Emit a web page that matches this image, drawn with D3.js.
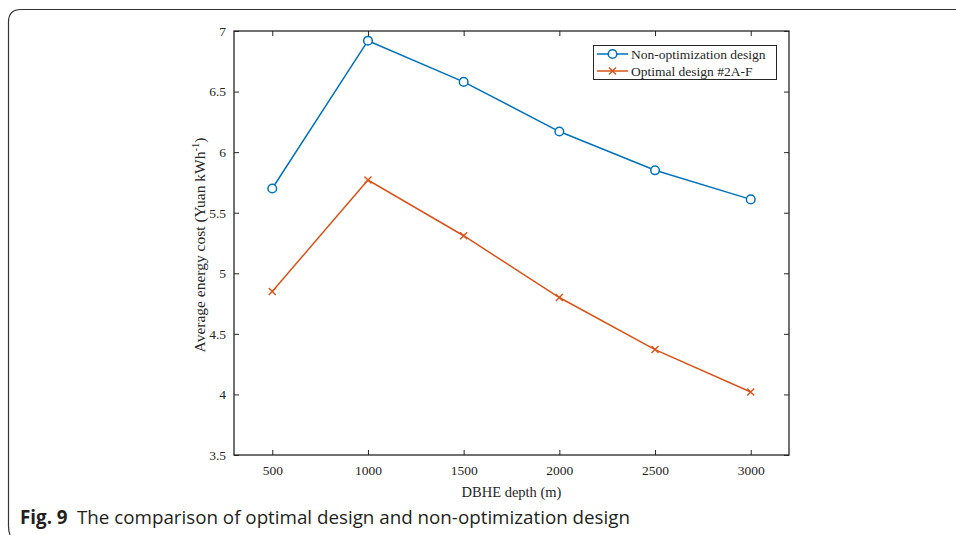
<!DOCTYPE html>
<html>
<head>
<meta charset="utf-8">
<script src="https://cdn.jsdelivr.net/npm/d3@7"></script>
<style>
  body { margin: 0; background: #fff; }
  svg { display: block; }
</style>
</head>
<body>
<div id="chart"></div>
<script>
// Chart data
var depths = [500, 1000, 1500, 2000, 2500, 3000];
var nonOptimized = [5.70, 6.92, 6.58, 6.17, 5.85, 5.61];
var optimal = [4.85, 5.77, 5.31, 4.80, 4.37, 4.02];
var seriesNames = ["Non-optimization design", "Optimal design #2A-F"];
var xTicks = [500, 1000, 1500, 2000, 2500, 3000];
var yTicks = [3.5, 4, 4.5, 5, 5.5, 6, 6.5, 7];

var svgWidth = 956;
var svgHeight = 535;

var margin = { top: 31, right: 167, bottom: 80, left: 234 };
var width = 789 - margin.left;
var height = 455 - margin.top;

var svg = d3.select("#chart").append("svg")
  .attr("width", svgWidth)
  .attr("height", svgHeight);

// Figure frame (rounded top-left corner)
svg.append("path")
  .attr("d", "M956,9.5 L21,9.5 Q8.5,9.5 8.5,22 L8.5,526 Q8.5,531 10,535")
  .attr("fill", "none")
  .attr("stroke", "#333")
  .attr("stroke-width", 1.2);

var chartGroup = svg.append("g")
  .attr("transform", `translate(${margin.left}, ${margin.top})`);

var xScale = d3.scaleLinear().domain([300, 3200]).range([0, width]);
var yScale = d3.scaleLinear().domain([3.5, 7]).range([height, 0]);

var serif = "'Liberation Serif', 'Times New Roman', serif";

// Axes with inward ticks
var bottomAxis = d3.axisBottom(xScale).tickValues(xTicks).tickSize(-5).tickPadding(10).tickFormat(d3.format("d"));
var topAxis = d3.axisTop(xScale).tickValues(xTicks).tickSize(-5).tickFormat("");
var leftAxis = d3.axisLeft(yScale).tickValues(yTicks).tickSize(-5).tickPadding(8).tickFormat(d => d);
var rightAxis = d3.axisRight(yScale).tickValues(yTicks).tickSize(-5).tickFormat("");

function styleAxis(g) {
  g.select(".domain").remove();
  g.selectAll(".tick line").attr("stroke", "#262626").attr("stroke-width", 1);
  g.selectAll(".tick text")
    .attr("fill", "#262626")
    .style("font-family", serif)
    .style("font-size", "13.5px");
}

chartGroup.append("g").attr("transform", `translate(0, ${height})`).call(bottomAxis).call(styleAxis);
chartGroup.append("g").call(topAxis).call(styleAxis);
chartGroup.append("g").call(leftAxis).call(styleAxis);
chartGroup.append("g").attr("transform", `translate(${width}, 0)`).call(rightAxis).call(styleAxis);

chartGroup.append("rect")
  .attr("width", width)
  .attr("height", height)
  .attr("fill", "none")
  .attr("stroke", "#262626")
  .attr("stroke-width", 1.3);

// Axis labels
chartGroup.append("text")
  .attr("x", width / 2)
  .attr("y", height + 42)
  .attr("text-anchor", "middle")
  .attr("fill", "#262626")
  .style("font-family", serif)
  .style("font-size", "14.5px")
  .text("DBHE depth (m)");

var yLabel = chartGroup.append("text")
  .attr("transform", `translate(-29, ${height / 2 + 2}) rotate(-90)`)
  .attr("text-anchor", "middle")
  .attr("fill", "#262626")
  .style("font-family", serif)
  .style("font-size", "15.5px");
yLabel.append("tspan").text("Average energy cost (Yuan kWh");
yLabel.append("tspan").attr("dy", -6).style("font-size", "10.5px").text("-1");
yLabel.append("tspan").attr("dy", 6).text(")");

// Lines
var line = d3.line()
  .x((d, i) => xScale(depths[i]))
  .y(d => yScale(d));

var blue = "#0072BD";
var red = "#D95319";

chartGroup.append("path")
  .datum(nonOptimized)
  .attr("d", line)
  .attr("fill", "none")
  .attr("stroke", blue)
  .attr("stroke-width", 1.5);

chartGroup.append("path")
  .datum(optimal)
  .attr("d", line)
  .attr("fill", "none")
  .attr("stroke", red)
  .attr("stroke-width", 1.5);

chartGroup.selectAll(".circ")
  .data(nonOptimized)
  .enter()
  .append("circle")
  .attr("cx", (d, i) => xScale(depths[i]))
  .attr("cy", d => yScale(d))
  .attr("r", 4.3)
  .attr("fill", "#fff")
  .attr("stroke", blue)
  .attr("stroke-width", 1.5);

function cross(g, cx, cy, s) {
  g.append("path")
    .attr("d", `M${cx - s},${cy - s}L${cx + s},${cy + s}M${cx - s},${cy + s}L${cx + s},${cy - s}`)
    .attr("stroke", red)
    .attr("stroke-width", 1.4)
    .attr("fill", "none");
}

optimal.forEach(function(d, i) {
  cross(chartGroup, xScale(depths[i]), yScale(d), 3.5);
});

// Legend
var legend = svg.append("g");
legend.append("rect")
  .attr("x", 593.5)
  .attr("y", 45.5)
  .attr("width", 183)
  .attr("height", 34)
  .attr("fill", "#fff")
  .attr("stroke", "#262626")
  .attr("stroke-width", 1);

var rows = [54, 71];
legend.append("line").attr("x1", 597).attr("x2", 628).attr("y1", rows[0]).attr("y2", rows[0])
  .attr("stroke", blue).attr("stroke-width", 1.5);
legend.append("circle").attr("cx", 612.5).attr("cy", rows[0]).attr("r", 4.3)
  .attr("fill", "#fff").attr("stroke", blue).attr("stroke-width", 1.5);
legend.append("line").attr("x1", 597).attr("x2", 628).attr("y1", rows[1]).attr("y2", rows[1])
  .attr("stroke", red).attr("stroke-width", 1.5);
cross(legend, 612.5, rows[1], 3.5);

seriesNames.forEach(function(name, i) {
  legend.append("text")
    .attr("x", 631)
    .attr("y", rows[i] + 4.5)
    .attr("fill", "#262626")
    .style("font-family", serif)
    .style("font-size", "13.5px")
    .text(name);
});

// Caption
var caption = svg.append("text")
  .attr("x", 20)
  .attr("y", 524)
  .style("font-family", "'Open Sans', 'Noto Sans', sans-serif")
  .style("font-size", "19px")
  .attr("fill", "#231f20")
  .attr("textLength", 610)
  .attr("lengthAdjust", "spacingAndGlyphs");
caption.append("tspan").style("font-weight", "bold").text("Fig. 9");
caption.append("tspan").text("\u2002The comparison of optimal design and non-optimization design");
</script>
</body>
</html>
